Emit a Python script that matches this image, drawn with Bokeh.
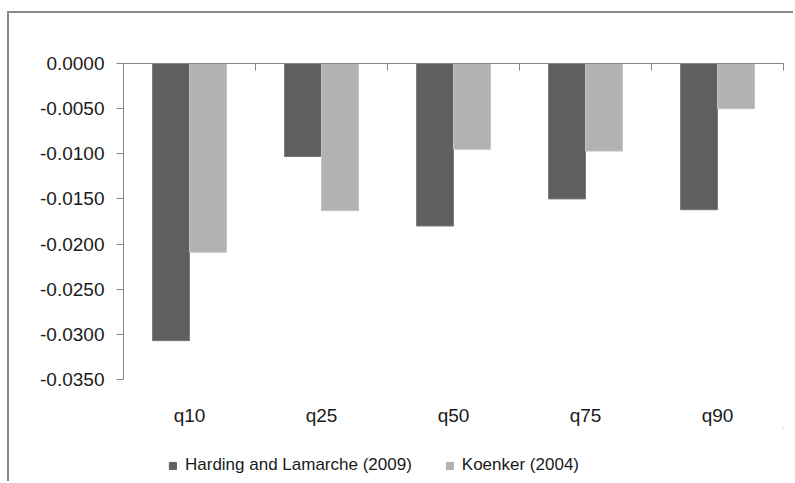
from bokeh.plotting import figure
from bokeh.layouts import column
from bokeh.models import (ColumnDataSource, Range1d, FixedTicker, LinearAxis,
                          NumeralTickFormatter, Legend, LegendItem)
from bokeh.embed import file_html
from bokeh.resources import INLINE

categories = ["q10", "q25", "q50", "q75", "q90"]
harding = [-0.0307, -0.0103, -0.0180, -0.0150, -0.0162]
koenker = [-0.0209, -0.0163, -0.0095, -0.0097, -0.0050]
series_names = ["Harding and Lamarche (2009)", "Koenker (2004)"]
y_ticks = [0.0, -0.005, -0.010, -0.015, -0.020, -0.025, -0.030, -0.035]

FONT = "Liberation Sans"
FS = "19px"
AX = "#868686"
DARK = "#606060"
LIGHT = "#b2b2b2"
TXT = "#1a1a1a"
BORDER = "2px solid #888888"

n = len(categories)
centers = [i + 0.5 for i in range(n)]
bw = 0.28
src = ColumnDataSource(dict(
    xd=[c - bw / 2 for c in centers],
    xl=[c + bw / 2 for c in centers],
    h=harding, k=koenker,
))

p = figure(width=786, height=417, output_backend="svg", toolbar_location=None,
           x_range=Range1d(0, n), y_range=Range1d(min(y_ticks), 0),
           min_border_left=114, min_border_top=50, min_border_right=12,
           min_border_bottom=51, x_axis_location=None, y_axis_location=None)
p.margin = (11, 0, 0, 7)
p.styles = {"border-left": BORDER, "border-top": BORDER}
p.grid.visible = False
p.outline_line_color = None
p.background_fill_color = "white"
p.border_fill_color = "white"

p.vbar(x="xd", top=0, bottom="h", width=bw, source=src,
       fill_color=DARK, line_color="#7a7a7a", line_width=1)
p.vbar(x="xl", top=0, bottom="k", width=bw, source=src,
       fill_color=LIGHT, line_color="#c4c4c4", line_width=1)

# value axis
yax = LinearAxis(ticker=FixedTicker(ticks=y_ticks),
                 formatter=NumeralTickFormatter(format="0.0000"))
yax.axis_line_color = AX
yax.major_tick_line_color = AX
yax.major_tick_out = 7
yax.major_tick_in = 0
yax.minor_tick_line_color = None
yax.major_label_text_font = FONT
yax.major_label_text_font_size = FS
yax.major_label_text_color = TXT
yax.major_label_standoff = 12
p.add_layout(yax, "left")

# category axis line at zero (top), ticks at category boundaries pointing down
top_ax = LinearAxis(ticker=FixedTicker(ticks=[i + 1 for i in range(n)]))
top_ax.axis_line_color = AX
top_ax.major_tick_line_color = AX
top_ax.major_tick_in = 7
top_ax.major_tick_out = 0
top_ax.minor_tick_line_color = None
top_ax.major_label_text_font_size = "0px"
top_ax.major_label_text_color = None
top_ax.major_label_standoff = 0
p.add_layout(top_ax, "above")

# category labels at bottom
xax = LinearAxis(ticker=FixedTicker(ticks=centers),
                 major_label_overrides={c: lab for c, lab in zip(centers, categories)})
xax.axis_line_color = None
xax.major_tick_line_color = None
xax.minor_tick_line_color = None
xax.major_label_text_font = FONT
xax.major_label_text_font_size = FS
xax.major_label_text_color = TXT
xax.major_label_standoff = 19
p.add_layout(xax, "below")

# legend strip
lg = figure(width=786, height=53, output_backend="svg", toolbar_location=None,
            x_range=Range1d(0, 1), y_range=Range1d(0, 1),
            min_border_left=0, min_border_right=0, min_border_top=0,
            min_border_bottom=0, x_axis_location=None, y_axis_location=None)
lg.margin = (0, 0, 0, 7)
lg.styles = {"border-left": BORDER}
lg.grid.visible = False
lg.outline_line_color = None
lg.border_fill_color = "white"
hidden = ColumnDataSource(dict(x=[5.0], t=[5.0], b=[4.0]))
d1 = lg.vbar(x="x", top="t", bottom="b", width=0.1, source=hidden,
             fill_color=DARK, line_color=DARK)
d2 = lg.vbar(x="x", top="t", bottom="b", width=0.1, source=hidden,
             fill_color=LIGHT, line_color=LIGHT)
legend = Legend(items=[LegendItem(label=series_names[0], renderers=[d1]),
                       LegendItem(label=series_names[1], renderers=[d2])],
                orientation="horizontal", location=(45, 6),
                padding=0, margin=0, spacing=33, label_standoff=8,
                glyph_width=9, glyph_height=9,
                label_text_font=FONT, label_text_font_size="17px",
                label_text_color=TXT,
                border_line_color=None, background_fill_alpha=0)
lg.add_layout(legend, "center")

layout = column(p, lg, spacing=0)
open("out.html", "w").write(file_html(layout, INLINE))
